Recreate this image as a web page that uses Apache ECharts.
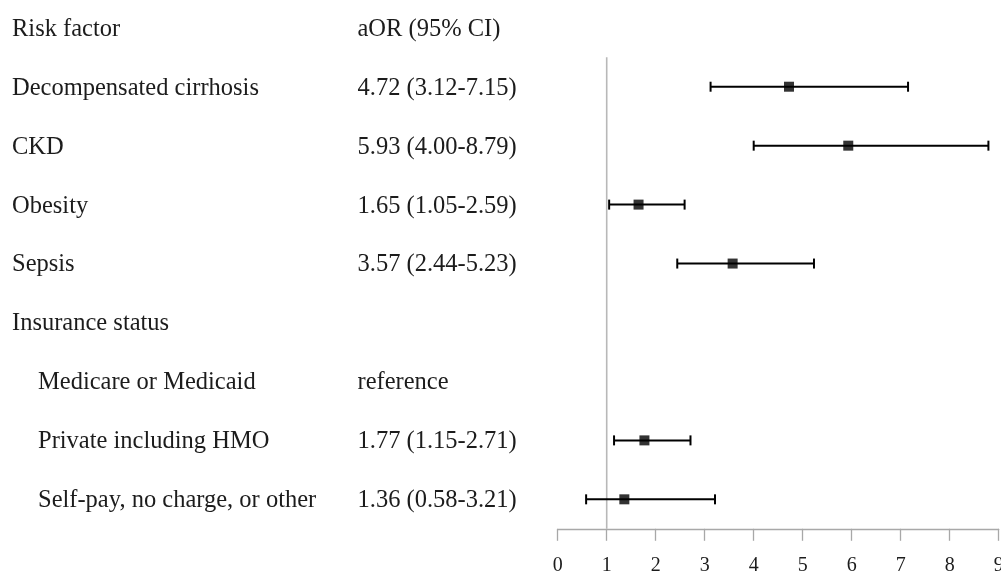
<!DOCTYPE html>
<html>
<head>
<meta charset="utf-8">
<script src="https://cdn.jsdelivr.net/npm/echarts@6/dist/echarts.min.js"></script>
<style>html,body{margin:0;padding:0;background:#fff}#c{width:1001px;height:572px}</style>
</head>
<body>
<div id="c"></div>
<script>
var rowLabels = ['Risk factor','Decompensated cirrhosis','CKD','Obesity','Sepsis','Insurance status','Medicare or Medicaid','Private including HMO','Self-pay, no charge, or other'];
var rowIndent = [0,0,0,0,0,0,1,1,1];
var aorText = ['aOR (95% CI)','4.72 (3.12-7.15)','5.93 (4.00-8.79)','1.65 (1.05-2.59)','3.57 (2.44-5.23)','','reference','1.77 (1.15-2.71)','1.36 (0.58-3.21)'];
var aor   = [null,4.72,5.93,1.65,3.57,null,null,1.77,1.36];
var lower = [null,3.12,4.00,1.05,2.44,null,null,1.15,0.58];
var upper = [null,7.15,8.79,2.59,5.23,null,null,2.71,3.21];
var xTicks = [0,1,2,3,4,5,6,7,8,9];
var refValue = 1;

var FONT = '"Liberation Serif","Times New Roman",serif';
var TXT = '#1c1c1c';

var pointData = [], barData = [];
for (var i = 0; i < rowLabels.length; i++) {
  if (aor[i] != null) {
    pointData.push([aor[i], i]);
    barData.push([lower[i], upper[i], i]);
  }
}

var richStyles = {
  n: {fontFamily: FONT, fontSize: 24.5, color: TXT, padding: [3, 0, 0, 0]},
  ind: {fontFamily: FONT, fontSize: 24.5, color: TXT, padding: [3, 0, 0, 26]}
};

var chart = echarts.init(document.getElementById('c'), null, {renderer: 'canvas'});
chart.setOption({
  animation: false,
  backgroundColor: '#fff',
  grid: {left: 557.7, right: 2.3, top: -1.7, bottom: 43.2, containLabel: false, outerBoundsMode: 'none'},
  xAxis: {
    type: 'value', min: xTicks[0], max: xTicks[xTicks.length - 1], interval: 1,
    splitLine: {show: false},
    axisLine: {show: true, lineStyle: {color: '#a8a8a8', width: 1.3}},
    axisTick: {show: true, length: 12, lineStyle: {color: '#a8a8a8', width: 1.3}},
    axisLabel: {show: true, margin: 27, fontFamily: FONT, fontSize: 20, color: TXT, showMinLabel: true, showMaxLabel: true}
  },
  yAxis: [{
    type: 'category', inverse: true, data: rowLabels, boundaryGap: true,
    axisLine: {show: false}, axisTick: {show: false}, splitLine: {show: false},
    axisLabel: {
      show: true, interval: 0, align: 'left', margin: 545.7,
      fontFamily: FONT, fontSize: 24.5, color: TXT,
      formatter: function (v, idx) { return rowIndent[idx] ? '{ind|' + v + '}' : '{n|' + v + '}'; },
      rich: richStyles
    }
  }, {
    type: 'category', inverse: true, data: rowLabels, boundaryGap: true, position: 'left',
    axisLine: {show: false}, axisTick: {show: false}, splitLine: {show: false},
    axisLabel: {
      show: true, interval: 0, align: 'left', margin: 200.2,
      fontFamily: FONT, fontSize: 24.5, color: TXT,
      formatter: function (v, idx) { return aorText[idx] ? '{n|' + aorText[idx] + '}' : ''; },
      rich: richStyles
    }
  }],
  series: [{
    type: 'custom', name: 'ref', data: [[refValue]], silent: true,
    encode: {x: 0},
    renderItem: function (params, api) {
      var top = api.coord([api.value(0), 1]);
      var bot = api.coord([api.value(0), rowLabels.length - 1]);
      var band = api.size([0, 1])[1];
      return {type: 'line', shape: {x1: top[0], y1: top[1] - band / 2, x2: bot[0], y2: bot[1] + band / 2},
              style: {stroke: '#b8b8b8', lineWidth: 1.6}};
    }
  }, {
    type: 'custom', name: 'CI', data: barData, silent: true,
    encode: {x: [0, 1], y: 2},
    renderItem: function (params, api) {
      var a = api.coord([api.value(0), api.value(2)]);
      var b = api.coord([api.value(1), api.value(2)]);
      var h = 5;
      var st = {stroke: '#000', lineWidth: 2};
      return {type: 'group', children: [
        {type: 'line', shape: {x1: a[0], y1: a[1], x2: b[0], y2: b[1]}, style: st},
        {type: 'line', shape: {x1: a[0], y1: a[1] - h, x2: a[0], y2: a[1] + h}, style: st},
        {type: 'line', shape: {x1: b[0], y1: b[1] - h, x2: b[0], y2: b[1] + h}, style: st}
      ]};
    }
  }, {
    type: 'scatter', name: 'aOR', data: pointData, symbol: 'rect', symbolSize: 10,
    itemStyle: {color: '#000'}, silent: true, z: 5
  }]
});
</script>
</body>
</html>
